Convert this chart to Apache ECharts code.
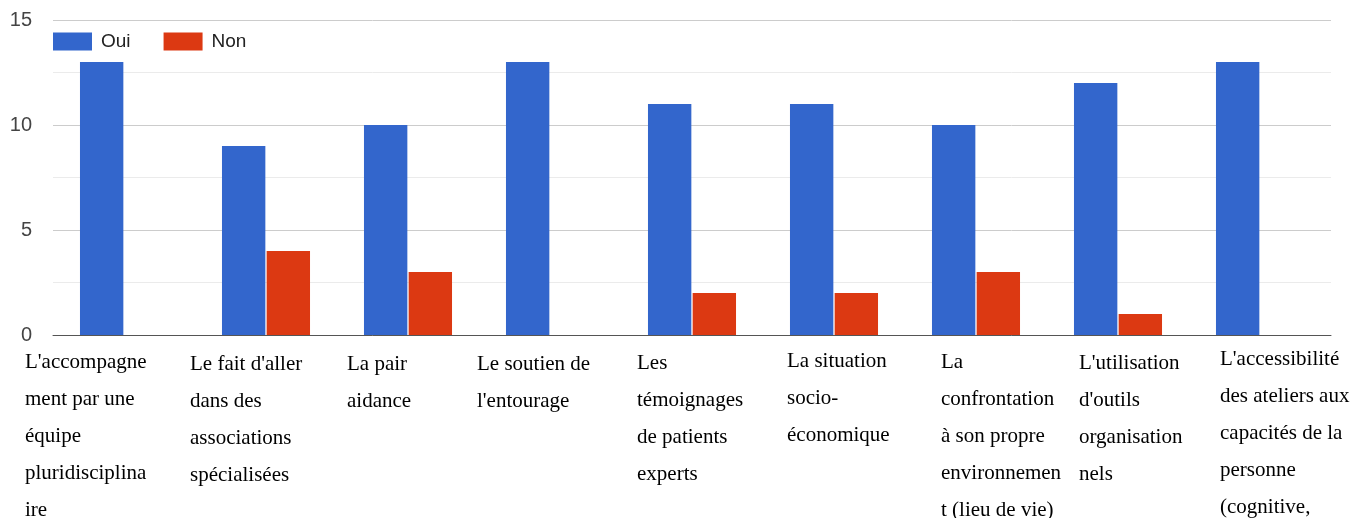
<!DOCTYPE html>
<html>
<head>
<meta charset="utf-8">
<script src="https://cdn.jsdelivr.net/npm/echarts@6/dist/echarts.min.js"></script>
<style>
  html, body { margin: 0; padding: 0; background: #fff; }
  #chart { width: 1370px; height: 518px; }
</style>
</head>
<body>
<div id="chart"></div>
<script>
var categories = [
  "L'accompagnement par une équipe pluridisciplinaire",
  "Le fait d'aller dans des associations spécialisées",
  "La pair aidance",
  "Le soutien de l'entourage",
  "Les témoignages de patients experts",
  "La situation socio-économique",
  "La confrontation à son propre environnement (lieu de vie)",
  "L'utilisation d'outils organisationnels",
  "L'accessibilité des ateliers aux capacités de la personne (cognitive,"
];
var tickLabels = [
  "L'accompagne\nment par une\néquipe\npluridisciplina\nire",
  "Le fait d'aller\ndans des\nassociations\nspécialisées",
  "La pair\naidance",
  "Le soutien de\nl'entourage",
  "Les\ntémoignages\nde patients\nexperts",
  "La situation\nsocio-\néconomique",
  "La\nconfrontation\nà son propre\nenvironnemen\nt (lieu de vie)",
  "L'utilisation\nd'outils\norganisation\nnels",
  "L'accessibilité\ndes ateliers aux\ncapacités de la\npersonne\n(cognitive,"
];
var oui = [13, 9, 10, 13, 11, 11, 10, 12, 13];
var non = [0, 4, 3, 0, 2, 2, 3, 1, 0];
var yTicks = [0, 5, 10, 15];

// décalage de chaque libellé (le texte commence à gauche du centre)
var labelShift = [-99, -76, -61, -73, -55, -47, -35, -39, -40];
var labelTop = [0, 2, 2, 2, 1, -1, 0, 1, -3];

var chart = echarts.init(document.getElementById('chart'));

var xData = categories.map(function (c, i) {
  return {
    value: c,
    textStyle: {
      align: 'left',
      padding: [labelTop[i], 0, 0, labelShift[i]]
    }
  };
});

var option = {
  animation: false,
  grid: { left: 53, right: 39, top: 20, bottom: 183, outerBoundsMode: 'none' },
  legend: {
    left: 53,
    top: 32,
    padding: 0,
    itemWidth: 39,
    itemHeight: 18,
    itemGap: 33,
    icon: 'rect',
    textStyle: {
      fontFamily: 'Liberation Sans, Arial, sans-serif',
      fontSize: 19,
      color: '#222',
      padding: [0, 0, 0, 4]
    },
    data: ['Oui', 'Non']
  },
  xAxis: {
    type: 'category',
    data: xData,
    axisTick: { show: false },
    axisLine: { lineStyle: { color: '#555', width: 1 } },
    axisLabel: {
      interval: 0,
      align: 'left',
      margin: 9,
      fontFamily: 'Liberation Serif, Times New Roman, serif',
      fontSize: 21,
      lineHeight: 37,
      color: '#000',
      formatter: function (v) {
        return tickLabels[categories.indexOf(v)];
      }
    }
  },
  yAxis: {
    type: 'value',
    min: yTicks[0],
    max: yTicks[yTicks.length - 1],
    interval: 5,
    axisLine: { show: false },
    axisTick: { show: false },
    axisLabel: {
      margin: 21,
      fontFamily: 'Liberation Sans, Arial, sans-serif',
      fontSize: 20,
      color: '#444'
    },
    splitLine: { lineStyle: { color: '#cccccc', width: 1 } },
    minorTick: { show: false, splitNumber: 2 },
    minorSplitLine: { show: true, lineStyle: { color: '#ebebeb', width: 1 } }
  },
  series: [
    {
      name: 'Oui',
      type: 'bar',
      data: oui,
      barGap: '3%',
      barCategoryGap: '38%',
      itemStyle: { color: '#3366cc' }
    },
    {
      name: 'Non',
      type: 'bar',
      data: non,
      itemStyle: { color: '#dc3912' }
    }
  ]
};

chart.setOption(option);
</script>
</body>
</html>
